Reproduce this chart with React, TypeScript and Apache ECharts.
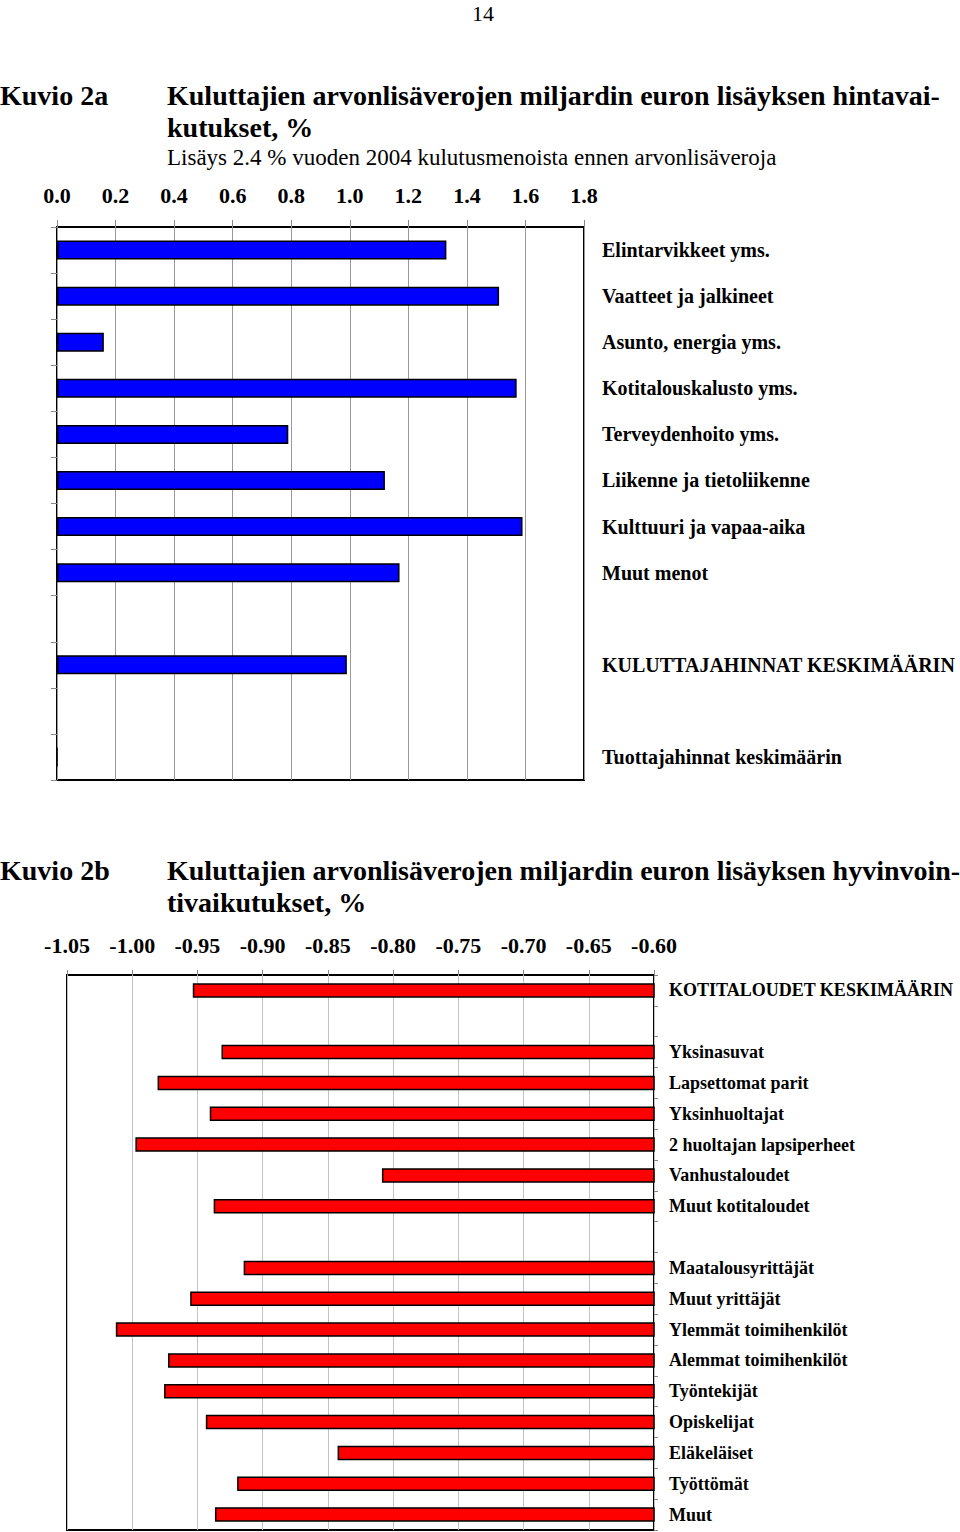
import React, { useEffect, useRef } from "react";
import * as echarts from "echarts";

const topCategories = [
  "Elintarvikkeet yms.",
  "Vaatteet ja jalkineet",
  "Asunto, energia yms.",
  "Kotitalouskalusto yms.",
  "Terveydenhoito yms.",
  "Liikenne ja tietoliikenne",
  "Kulttuuri ja vapaa-aika",
  "Muut menot",
  "",
  "KULUTTAJAHINNAT KESKIMÄÄRIN",
  " ",
  "Tuottajahinnat keskimäärin",
];
const topValues = [1.33, 1.51, 0.16, 1.57, 0.79, 1.12, 1.59, 1.17, null, 0.99, null, 0];
const topTicks = { min: 0, max: 1.8, interval: 0.2 };

const bottomCategories = [
  "KOTITALOUDET KESKIMÄÄRIN",
  "",
  "Yksinasuvat",
  "Lapsettomat parit",
  "Yksinhuoltajat",
  "2 huoltajan lapsiperheet",
  "Vanhustaloudet",
  "Muut kotitaloudet",
  " ",
  "Maatalousyrittäjät",
  "Muut yrittäjät",
  "Ylemmät toimihenkilöt",
  "Alemmat toimihenkilöt",
  "Työntekijät",
  "Opiskelijat",
  "Eläkeläiset",
  "Työttömät",
  "Muut",
];
const bottomValues = [
  -0.953, null, -0.931, -0.98, -0.94, -0.997, -0.808, -0.937, null,
  -0.914, -0.955, -1.012, -0.972, -0.975, -0.943, -0.842, -0.919, -0.936,
];
const bottomTicks = { min: -1.05, max: -0.6, interval: 0.05 };
const bottomBase = -0.6;

const SERIF = '"Liberation Serif", "Times New Roman", serif';

export default function App() {
  const ref = useRef<HTMLDivElement>(null);
  useEffect(() => {
    if (!ref.current) return;
    const chart = echarts.init(ref.current, undefined, { renderer: "svg" });
    const titleText = (text: string, x: number, y: number, size: number, bold: boolean, align = "left") => ({
      type: "text",
      x,
      y,
      style: {
        text,
        fill: "#000",
        fontFamily: SERIF,
        fontSize: size,
        fontWeight: bold ? "bold" : "normal",
        align,
        verticalAlign: "middle",
      },
    });
    const option: any = {
      animation: false,
      backgroundColor: "#fff",
      graphic: [
        titleText("14", 483, 13, 22, false, "center"),
        titleText("Kuvio 2a", 0, 95, 28, true),
        titleText("Kuluttajien arvonlisäverojen miljardin euron lisäyksen hintavai-", 167, 95, 28, true),
        titleText("kutukset, %", 167, 127, 28, true),
        titleText("Lisäys 2.4 % vuoden 2004 kulutusmenoista ennen arvonlisäveroja", 167, 157, 23, false),
        titleText("Kuvio 2b", 0, 870, 28, true),
        titleText("Kuluttajien arvonlisäverojen miljardin euron lisäyksen hyvinvoin-", 167, 870, 28, true),
        titleText("tivaikutukset, %", 167, 902, 28, true),
      ],
      grid: [
        { left: 57, top: 227, width: 527, height: 553, show: true, borderColor: "#000", borderWidth: 2, backgroundColor: "transparent" },
        { left: 67, top: 975, width: 587, height: 555, show: true, borderColor: "#000", borderWidth: 2, backgroundColor: "transparent" },
      ],
      xAxis: [
        {
          gridIndex: 0,
          type: "value",
          position: "top",
          min: topTicks.min,
          max: topTicks.max,
          interval: topTicks.interval,
          axisLine: { show: false },
          axisTick: { show: true, length: 7, lineStyle: { color: "#888" } },
          splitLine: { show: true, lineStyle: { color: "#999", width: 1 } },
          axisLabel: {
            formatter: (v: number) => v.toFixed(1),
            fontFamily: SERIF,
            fontWeight: "bold",
            fontSize: 22,
            color: "#000",
            margin: 21,
          },
        },
        {
          gridIndex: 1,
          type: "value",
          position: "top",
          min: bottomTicks.min,
          max: bottomTicks.max,
          interval: bottomTicks.interval,
          axisLine: { show: false },
          axisTick: { show: true, length: 5, lineStyle: { color: "#888" } },
          splitLine: { show: true, lineStyle: { color: "#c4c4c4", width: 1 } },
          axisLabel: {
            formatter: (v: number) => v.toFixed(2),
            fontFamily: SERIF,
            fontWeight: "bold",
            fontSize: 22,
            color: "#000",
            margin: 19,
          },
        },
      ],
      yAxis: [
        {
          gridIndex: 0,
          type: "category",
          inverse: true,
          position: "left",
          data: topCategories,
          axisLine: { show: false },
          axisTick: { show: true, length: 6, lineStyle: { color: "#888" } },
          axisLabel: { show: false },
          splitLine: { show: false },
        },
        {
          gridIndex: 0,
          type: "category",
          inverse: true,
          position: "right",
          data: topCategories,
          axisLine: { show: false },
          axisTick: { show: false },
          axisLabel: {
            show: true,
            interval: 0,
            margin: 18,
            fontFamily: SERIF,
            fontWeight: "bold",
            fontSize: 20,
            color: "#000",
          },
          splitLine: { show: false },
        },
        {
          gridIndex: 1,
          type: "category",
          inverse: true,
          position: "right",
          data: bottomCategories,
          axisLine: { show: false },
          axisTick: { show: true, length: 4, lineStyle: { color: "#888" } },
          axisLabel: {
            show: true,
            interval: 0,
            margin: 15,
            fontFamily: SERIF,
            fontWeight: "bold",
            fontSize: 18,
            color: "#000",
          },
          splitLine: { show: false },
        },
      ],
      series: [
        {
          type: "bar",
          xAxisIndex: 0,
          yAxisIndex: 0,
          data: topValues,
          barWidth: 19,
          itemStyle: { color: "#0000FF", borderColor: "#000", borderWidth: 1.5 },
        },
        {
          type: "custom",
          xAxisIndex: 1,
          yAxisIndex: 2,
          data: bottomValues.map((v, i) => [v, i]),
          encode: { x: 0, y: 1 },
          renderItem: (params: any, api: any) => {
            const v = api.value(0);
            const idx = api.value(1);
            if (v == null || isNaN(v)) return null;
            const start = api.coord([bottomBase, idx]);
            const end = api.coord([v, idx]);
            const h = api.size([0, 1])[1] * 0.42;
            return {
              type: "rect",
              shape: { x: end[0], y: end[1] - h / 2, width: start[0] - end[0], height: h },
              style: { fill: "#FF0000", stroke: "#000", lineWidth: 1.5 },
            };
          },
        },
      ],
    };
    chart.setOption(option);
    return () => chart.dispose();
  }, []);
  return (
    <div
      ref={ref}
      style={{ position: "absolute", left: 0, top: 0, width: 960, height: 1532, background: "#fff" }}
    />
  );
}
